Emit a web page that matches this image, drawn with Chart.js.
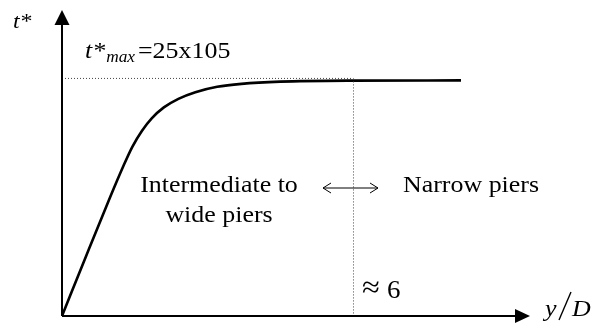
<!DOCTYPE html>
<html>
<head>
<meta charset="utf-8">
<script src="https://cdn.jsdelivr.net/npm/chart.js@4/dist/chart.umd.min.js"></script>
<style>
  html, body { margin: 0; padding: 0; background: #fff; }
  #wrap { width: 595px; height: 323px; }
</style>
</head>
<body>
<div id="wrap"><canvas id="c"></canvas></div>
<script>
// Relative pier width y/D and normalised time t*
const yOverD = [0, 0.50, 1.00, 1.25, 1.45, 1.65, 1.85, 2.10, 2.40, 2.75, 3.20, 3.70, 4.50, 6.00, 8.227];
const tStar  = [0, 6.35, 12.60, 15.60, 17.80, 19.50, 20.80, 21.95, 22.85, 23.55, 24.12, 24.43, 24.66, 24.77, 24.79];

const tStarMax = 25;        // plateau value
const transitionYD = 6;     // narrow / wide pier limit
const axisExtent = { x: 9.65, y: 32.2 };

const SERIF = '"Liberation Serif", "DejaVu Serif", serif';
const STRETCH = 1.08;       // slightly wide lettering

// draw text with a small horizontal stretch; returns drawn width
function wideText(ctx, text, x, y, font, align) {
  ctx.save();
  ctx.font = font;
  const w = ctx.measureText(text).width * STRETCH;
  let left = x;
  if (align === 'center') left = x - w / 2;
  ctx.translate(left, y);
  ctx.scale(STRETCH, 1);
  ctx.textAlign = 'left';
  ctx.textBaseline = 'alphabetic';
  ctx.fillText(text, 0, 0);
  ctx.restore();
  return w;
}

// Arrowed axes, dotted guides and annotations
const diagramPlugin = {
  id: 'diagram',
  afterDatasetsDraw(chart) {
    const { ctx, scales: { x, y } } = chart;
    const x0 = x.getPixelForValue(0), y0 = y.getPixelForValue(0);
    const xEnd = x.getPixelForValue(axisExtent.x), yEnd = y.getPixelForValue(axisExtent.y);
    const gx = x.getPixelForValue(transitionYD), gy = y.getPixelForValue(tStarMax);

    ctx.save();
    // dotted guides
    ctx.strokeStyle = '#444';
    ctx.lineWidth = 1;
    ctx.setLineDash([1, 2]);
    ctx.beginPath();
    ctx.moveTo(x0, gy); ctx.lineTo(gx, gy);
    ctx.moveTo(gx + 0.5, gy); ctx.lineTo(gx + 0.5, y0);
    ctx.stroke();
    ctx.setLineDash([]);

    // axes
    ctx.strokeStyle = '#000';
    ctx.fillStyle = '#000';
    ctx.lineWidth = 2;
    ctx.beginPath();
    ctx.moveTo(x0, y0); ctx.lineTo(xEnd - 10, y0);
    ctx.moveTo(x0, y0); ctx.lineTo(x0, yEnd + 10);
    ctx.stroke();
    ctx.beginPath();
    ctx.moveTo(xEnd, y0); ctx.lineTo(xEnd - 15, y0 - 7); ctx.lineTo(xEnd - 15, y0 + 7); ctx.closePath();
    ctx.fill();
    ctx.beginPath();
    ctx.moveTo(x0, yEnd); ctx.lineTo(x0 - 7.5, yEnd + 15); ctx.lineTo(x0 + 7.5, yEnd + 15); ctx.closePath();
    ctx.fill();

    // axis titles
    wideText(ctx, 't*', 13, 28, 'italic 22px ' + SERIF);

    const yx = 545, yb = 316;
    wideText(ctx, 'y', yx, yb, 'italic 24px ' + SERIF);
    ctx.lineWidth = 1.4;
    ctx.beginPath();
    ctx.moveTo(yx + 26, yb - 24); ctx.lineTo(yx + 14, yb + 4);
    ctx.stroke();
    wideText(ctx, 'D', yx + 27, yb, 'italic 24px ' + SERIF);

    // plateau label: t*max = 25x105
    let tx = 85;
    const tb = 58;
    tx += wideText(ctx, 't*', tx, tb, 'italic 24px ' + SERIF);
    tx += 1;
    tx += wideText(ctx, 'max', tx, tb + 4, 'italic 16px ' + SERIF);
    wideText(ctx, '=25x105', 138, tb, '24px ' + SERIF);

    // regime labels
    const lab = '24px ' + SERIF;
    wideText(ctx, 'Intermediate to', 219, 192, lab, 'center');
    wideText(ctx, 'wide piers', 219, 222, lab, 'center');
    wideText(ctx, 'Narrow piers', 403, 192, lab);

    // double-headed arrow
    ctx.lineWidth = 1;
    const ay = 188, a1 = 323, a2 = 378;
    ctx.beginPath();
    ctx.moveTo(a1, ay); ctx.lineTo(a2, ay);
    ctx.moveTo(a1 + 8, ay - 5); ctx.lineTo(a1, ay); ctx.lineTo(a1 + 8, ay + 5);
    ctx.moveTo(a2 - 8, ay - 5); ctx.lineTo(a2, ay); ctx.lineTo(a2 - 8, ay + 5);
    ctx.stroke();

    // transition value
    wideText(ctx, '\u2248', 362, 297, '30px ' + SERIF);
    wideText(ctx, '6', 387, 298, '25px ' + SERIF);
    ctx.restore();
  }
};

new Chart(document.getElementById('c'), {
  type: 'line',
  data: {
    datasets: [{
      data: yOverD.map((v, i) => ({ x: v, y: tStar[i] })),
      borderColor: '#000',
      borderWidth: 2.6,
      pointRadius: 0,
      cubicInterpolationMode: 'monotone',
      fill: false
    }]
  },
  options: {
    responsive: true,
    maintainAspectRatio: false,
    animation: false,
    layout: { padding: { left: 62, right: 65, top: 10, bottom: 7 } },
    plugins: { legend: { display: false }, tooltip: { enabled: false } },
    scales: {
      x: { type: 'linear', min: 0, max: axisExtent.x, display: false },
      y: { type: 'linear', min: 0, max: axisExtent.y, display: false }
    }
  },
  plugins: [diagramPlugin]
});
</script>
</body>
</html>
